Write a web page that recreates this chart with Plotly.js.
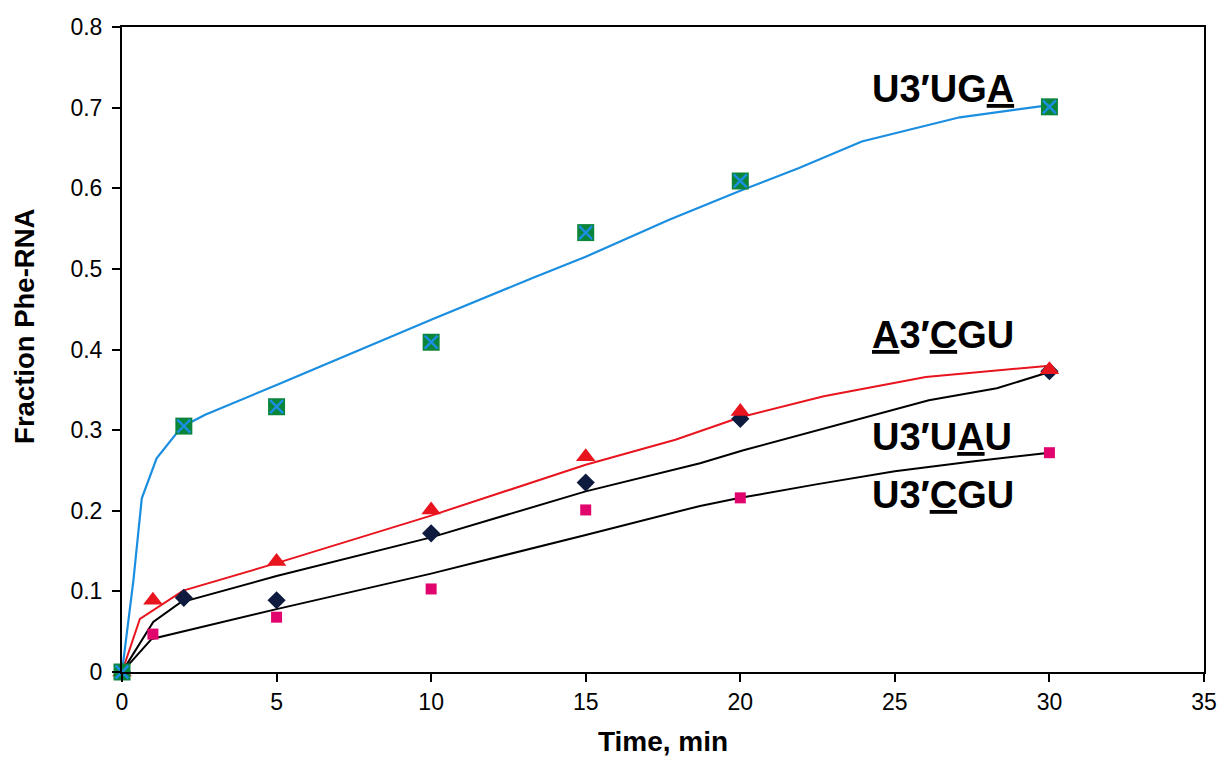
<!DOCTYPE html>
<html>
<head>
<meta charset="utf-8">
<script src="https://cdn.plot.ly/plotly-3.0.1.min.js"></script>
<style>html,body{margin:0;padding:0;background:#fff}#chart{width:1222px;height:762px}</style>
</head>
<body>
<div id="chart"></div>
<script>
// Measured data (time in min, fraction Phe-RNA)
const timeUGA = [0, 2, 5, 10, 15, 20, 30];
const valUGA  = [0, 0.305, 0.329, 0.409, 0.545, 0.609, 0.701];
const timeACGU = [0, 1, 5, 10, 15, 20, 30];
const valACGU  = [0, 0.089, 0.137, 0.201, 0.267, 0.323, 0.375];
const timeUAU = [0, 2, 5, 10, 15, 20, 30];
const valUAU  = [0, 0.092, 0.089, 0.172, 0.235, 0.314, 0.373];
const timeUCGU = [0, 1, 5, 10, 15, 20, 30];
const valUCGU  = [0, 0.047, 0.068, 0.103, 0.201, 0.216, 0.272];

// Fitted curves
const fitUGA_x = [0, 0.37, 0.64, 1.12, 1.93, 2.69, 5, 10, 13.3, 15, 17.7, 20, 21.9, 23.93, 27.1, 30];
const fitUGA_y = [0, 0.114, 0.2155, 0.265, 0.304, 0.319, 0.356, 0.437, 0.489, 0.515, 0.561, 0.597, 0.625, 0.658, 0.688, 0.703];
const fitACGU_x = [0, 0.58, 1.98, 5, 10, 15, 17.9, 20, 22.7, 26.0, 30];
const fitACGU_y = [0, 0.066, 0.101, 0.135, 0.194, 0.257, 0.288, 0.316, 0.342, 0.366, 0.380];
const fitUAU_x = [0, 1.01, 1.88, 5, 10, 15, 18.7, 20.1, 26.1, 28.3, 30];
const fitUAU_y = [0, 0.062, 0.086, 0.119, 0.167, 0.224, 0.259, 0.275, 0.337, 0.352, 0.372];
const fitUCGU_x = [0, 0.96, 5, 10, 15, 18.7, 20, 22.5, 25, 27.5, 30];
const fitUCGU_y = [0, 0.041, 0.078, 0.122, 0.170, 0.206, 0.216, 0.233, 0.249, 0.261, 0.272];

// Labels
const labelText = ["U3′UG<u>A</u>", "<u>A</u>3′<u>C</u>GU", "U3′U<u>A</u>U", "U3′<u>C</u>GU"];
const labelX = [24.2, 24.2, 24.2, 24.2];
const labelY = [0.723, 0.418, 0.292, 0.219];

const xTicks = [0, 5, 10, 15, 20, 25, 30, 35];
const yTicks = [0, 0.1, 0.2, 0.3, 0.4, 0.5, 0.6, 0.7, 0.8];
const yTickText = ["0", "0.1", "0.2", "0.3", "0.4", "0.5", "0.6", "0.7", "0.8"];

const FONT = "Liberation Sans, Arial, Helvetica, sans-serif";

const traces = [
  {x: fitUCGU_x, y: fitUCGU_y, mode: 'lines', line: {color: '#000000', width: 2}, hoverinfo: 'skip'},
  {x: fitUAU_x, y: fitUAU_y, mode: 'lines', line: {color: '#000000', width: 2}, hoverinfo: 'skip'},
  {x: fitACGU_x, y: fitACGU_y, mode: 'lines', line: {color: '#e8141e', width: 2}, hoverinfo: 'skip'},
  {x: fitUGA_x, y: fitUGA_y, mode: 'lines', line: {color: '#1a8ee0', width: 2.2}, hoverinfo: 'skip'},
  {x: timeUCGU, y: valUCGU, mode: 'markers', name: 'U3′CGU', marker: {symbol: 'square', size: 11, color: '#e0046c'}, cliponaxis: false},
  {x: timeUAU, y: valUAU, mode: 'markers', name: 'U3′UAU', marker: {symbol: 'diamond', size: 14, color: '#0e1a3e'}, cliponaxis: false},
  {x: timeACGU, y: valACGU, mode: 'markers', name: 'A3′CGU', marker: {symbol: 'triangle-up', size: 17, color: '#e8141e'}, cliponaxis: false},
  {x: timeUGA, y: valUGA, mode: 'markers', name: 'U3′UGA', marker: {symbol: 'square', size: 17, color: '#0b853a'}, cliponaxis: false},
  {x: timeUGA, y: valUGA, mode: 'markers', name: 'U3′UGA x', marker: {symbol: 'x-thin', size: 13, color: '#1a8ee0', line: {color: '#1a8ee0', width: 2.5}}, cliponaxis: false}
];

const annotations = labelText.map((t, i) => ({
  x: labelX[i], y: labelY[i], xref: 'x', yref: 'y', text: t, showarrow: false,
  xanchor: 'left', yanchor: 'middle',
  font: {family: FONT, size: 38, color: '#000', weight: 'bold'}
}));
annotations.push({
  xref: 'paper', yref: 'paper', x: -0.09, y: 0.536, text: '<b>Fraction Phe-RNA</b>',
  textangle: -90, showarrow: false, xanchor: 'center', yanchor: 'middle',
  font: {family: FONT, size: 27.5, color: '#000'}
});

const layout = {
  width: 1222, height: 762,
  margin: {l: 122, r: 18, t: 27, b: 90},
  paper_bgcolor: '#ffffff', plot_bgcolor: '#ffffff',
  showlegend: false,
  font: {family: FONT, color: '#000'},
  xaxis: {
    range: [0, 35], tickvals: xTicks, ticktext: xTicks.map(String),
    showgrid: false, zeroline: false,
    showline: true, linecolor: '#000', linewidth: 2, mirror: true,
    ticks: 'outside', ticklen: 8, tickwidth: 2, tickcolor: '#000',
    tickfont: {family: FONT, size: 23, color: '#000'},
    title: {text: '<b>Time, min</b>', font: {family: FONT, size: 28, color: '#000'}, standoff: 18}
  },
  yaxis: {
    range: [0, 0.8], tickvals: yTicks, ticktext: yTickText,
    showgrid: false, zeroline: false,
    showline: true, linecolor: '#000', linewidth: 2, mirror: true,
    ticks: 'outside', ticklen: 8, tickwidth: 2, tickcolor: '#000',
    ticklabelstandoff: 5,
    tickfont: {family: FONT, size: 23, color: '#000'}
  },
  annotations: annotations
};

Plotly.newPlot('chart', traces, layout, {staticPlot: true});
</script>
</body>
</html>
